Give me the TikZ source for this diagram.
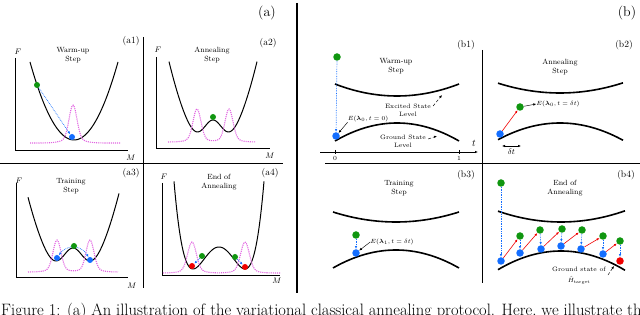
\documentclass[tikz,border=0pt]{standalone}
\usepackage{amsmath}
\usepackage{amssymb}
\usepackage{tikz}
\usetikzlibrary{arrows.meta,positioning}

\definecolor{ballgreen}{RGB}{16,150,16}
\definecolor{ballblue}{RGB}{20,110,255}
\definecolor{ballred}{RGB}{240,0,0}
\definecolor{densmag}{RGB}{225,100,225}

\begin{document}
\begin{tikzpicture}[x=1pt,y=1pt,>={Latex[length=3pt,width=2.4pt]},
  pot/.style={line width=1pt},
  lvl/.style={line width=1.6pt},
  dens/.style={densmag,densely dotted,line width=1.1pt},
  axis/.style={line width=0.7pt},
  split/.style={line width=0.8pt},
  ball/.style={circle,inner sep=0pt,minimum size=7.5pt},
  sball/.style={ball,minimum size=6pt},
  fall/.style={->,ballblue,densely dotted,line width=0.7pt},
  hop/.style={->,ballred,line width=0.6pt},
  ptr/.style={->,line width=0.45pt},
  dptr/.style={->,densely dashed,line width=0.45pt},
  title/.style={font=\fontsize{7.5}{9.5}\selectfont,align=center,inner sep=0pt},
  note/.style={font=\fontsize{6.3}{7.8}\selectfont,align=center,inner sep=0pt},
  tag/.style={font=\fontsize{9.5}{11}\selectfont,inner sep=0pt},
  bigtag/.style={font=\fontsize{14}{16}\selectfont,inner sep=0pt},
  lab/.style={font=\fontsize{8}{9}\selectfont,inner sep=0pt}]
  \useasboundingbox (0,0) rectangle (640,315);

  % frames
  \draw[line width=1.1pt] (297,312) -- (297,22);
  \draw[split] (143,278) -- (143,27);
  \draw[split] (0,152) -- (283,152);
  \draw[split] (482,265) -- (482,32);
  \draw[split] (325,152) -- (640,152);
  \node[bigtag] (ta) at (267,302) {(a)};
  \node[bigtag] (tb) at (627,302) {(b)};

  % (a1)
  \node[tag] (ta1) at (131,274) {(a1)};
  \draw[axis] (15,257) |- (128,165);
  \node[lab] (fa1) at (18,263) {$F$};
  \node[lab] (ma1) at (131,157) {$M$};
  \node[title] (wa1) at (73,260) {Warm-up\\Step};
  \draw[pot] plot[domain=30:118,samples=60] (\x,{175+0.0403*(\x-74)^2});
  \draw[dens] plot[domain=30:120,samples=90] (\x,{172+34*exp(-((\x-73)/5.5)^2)+4*exp(-((\x-73)/14)^2)});
  \node[sball,fill=ballgreen] (a1g) at (37,230) {};
  \node[sball,fill=ballblue] (a1b) at (72,178) {};
  \draw[fall] (a1g) -- (a1b);

  % (a2)
  \node[tag] (ta2) at (268,272) {(a2)};
  \draw[axis] (156,258) |- (270,167);
  \node[lab] (fa2) at (158,265) {$F$};
  \node[lab] (ma2) at (270,159) {$M$};
  \node[title] (wa2) at (212,260) {Annealing\\Step};
  \draw[pot] plot[domain=169:257,samples=80] (\x,{163.4+0.0465*(\x-213)^2+31.6*exp(-(\x-213)^2/182.25)});
  \draw[dens] plot[domain=168:256,samples=100] (\x,{173+30*exp(-((\x-197)/5.5)^2)+30*exp(-((\x-229)/5.5)^2)+3*exp(-((\x-197)/13)^2)+3*exp(-((\x-229)/13)^2)});
  \node[sball,fill=ballgreen] (a2g) at (213,198) {};

  % (a3)
  \node[tag] (ta3) at (131,142) {(a3)};
  \draw[axis] (16,132) |- (128,38);
  \node[lab] (fa3) at (19,134) {$F$};
  \node[lab] (ma3) at (132,29) {$M$};
  \node[title] (wa3) at (71,129) {Training\\Step};
  \draw[pot] plot[domain=28:119,samples=80] (\x,{32.7+0.042*(\x-73)^2+34.3*exp(-(\x-73)^2/219)});
  \draw[dens] plot[domain=28:118,samples=100] (\x,{43+29*exp(-((\x-57)/5.5)^2)+29*exp(-((\x-90)/5.5)^2)+3*exp(-((\x-57)/13)^2)+3*exp(-((\x-90)/13)^2)});
  \node[sball,fill=ballgreen] (a3g) at (74,69) {};
  \node[sball,fill=ballblue] (a3bl) at (57,57) {};
  \node[sball,fill=ballblue] (a3br) at (90,55) {};
  \draw[fall] (a3g) to[bend right=20] (a3bl);
  \draw[fall] (a3g) to[bend left=20] (a3br);

  % (a4)
  \node[tag] (ta4) at (270,142) {(a4)};
  \draw[axis] (162,132) |- (280,40);
  \node[lab] (fa4) at (164,138) {$F$};
  \node[lab] (ma4) at (277,34) {$M$};
  \node[title] (wa4) at (219,133) {End of\\Annealing};
  \draw[pot] plot[domain=174:264,samples=100] (\x,{46+22*((\x-219)^2/676-1)^2});
  \draw[dens] plot[domain=163:280,samples=110] (\x,{42+28*exp(-((\x-192)/6)^2)+28*exp(-((\x-245)/6)^2)+3*exp(-((\x-192)/14)^2)+3*exp(-((\x-245)/14)^2)});
  \node[sball,fill=ballgreen] (a4gl) at (202,59) {};
  \node[sball,fill=ballgreen] (a4gr) at (235,58) {};
  \node[sball,fill=ballred] (a4rl) at (192,49) {};
  \node[sball,fill=ballred] (a4rr) at (245,48) {};
  \draw[fall] (a4gl) -- (a4rl);
  \draw[fall] (a4gr) -- (a4rr);

  % (b1)
  \node[tag] (tb1) at (466,270) {(b1)};
  \node[title] (wb1) at (396,249) {Warm-up\\Step};
  \draw[->,line width=0.7pt] (320,163) -- (478,163);
  \draw[axis] (335,165) -- (335,161) node[below=2pt,note] (t0) {0};
  \draw[axis] (459,165) -- (459,161) node[below=2pt,note] (t1) {1};
  \node[font=\fontsize{10}{12}\selectfont,inner sep=0pt] (tt) at (474,172) {$t$};
  \draw[lvl] plot[domain=335:459,samples=40] (\x,{219+12*((\x-397)/62)^2});
  \draw[lvl] plot[domain=335:459,samples=40] (\x,{192-18*((\x-397)/62)^2});
  \node[ball,fill=ballgreen] (b1g) at (337,258) {};
  \node[ball,fill=ballblue] (b1b) at (336,179) {};
  \draw[fall] (b1g) -- (b1b);
  \node[note] (b1elab) at (368,196) {$E(\boldsymbol{\lambda}_0, t=0)$};
  \draw[ptr] (b1elab.south west) -- (b1b);
  \node[note] (b1exlab) at (408,205) {Excited State\\Level};
  \coordinate (b1ex) at (442,220);
  \draw[dptr] ([shift={(2,4)}]b1exlab.east) -- (b1ex);
  \node[note] (b1gslab) at (403,174) {Ground State\\Level};
  \coordinate (b1gs) at (437,179);
  \draw[dptr] ([shift={(2,2)}]b1gslab.east) -- (b1gs);

  % (b2)
  \node[tag] (tb2) at (624,270) {(b2)};
  \node[title] (wb2) at (560,248) {Annealing\\Step};
  \draw[lvl] plot[domain=498:623,samples=40] (\x,{222+10*((\x-560)/62.5)^2});
  \draw[lvl] plot[domain=498:623,samples=40] (\x,{192-17*((\x-560)/62.5)^2});
  \node[ball,fill=ballblue] (b2b) at (500,181) {};
  \node[ball,fill=ballgreen] (b2g) at (520,208) {};
  \draw[hop] (b2b) -- (b2g);
  \node[note] (b2elab) at (558,211) {$E(\boldsymbol{\lambda}_0, t=\delta t)$};
  \draw[ptr] (b2g) -- (b2elab.west);
  \coordinate (dtl) at (502,169);
  \coordinate (dtr) at (521,169);
  \draw[<->,line width=0.45pt] (dtl) -- node[below=3pt,font=\fontsize{8}{9}\selectfont,inner sep=0pt] (dt) {$\delta t$} (dtr);

  % (b3)
  \node[tag] (tb3) at (466,140) {(b3)};
  \node[title] (wb3) at (399,127) {Training\\Step};
  \draw[lvl] plot[domain=333:459,samples=40] (\x,{93+10*((\x-396)/63)^2});
  \draw[lvl] plot[domain=333:459,samples=40] (\x,{65-18*((\x-396)/63)^2});
  \node[ball,fill=ballgreen] (b3g) at (356,80) {};
  \node[ball,fill=ballblue] (b3b) at (356,62) {};
  \draw[fall] (b3g) -- (b3b);
  \node[note] (b3elab) at (392,73) {$E(\boldsymbol{\lambda}_1, t=\delta t)$};
  \draw[ptr] (b3elab.west) -- (b3b);

  % (b4)
  \node[tag] (tb4) at (626,140) {(b4)};
  \node[title] (wb4) at (565,127) {End of\\Annealing};
  \draw[lvl] plot[domain=498:625,samples=40] (\x,{93+11*((\x-561)/63.5)^2});
  \draw[lvl] plot[domain=498:625,samples=40] (\x,{64-19*((\x-561)/63.5)^2});
  \node[ball,fill=ballgreen] (b4gtop) at (501,132) {};
  \node[ball,fill=ballblue] (b4b0) at (501,54) {};
  \node[ball,fill=ballgreen] (b4g1) at (520,79) {};
  \node[ball,fill=ballblue] (b4b1) at (520,62) {};
  \node[ball,fill=ballgreen] (b4g2) at (540,85) {};
  \node[ball,fill=ballblue] (b4b2) at (541,66) {};
  \node[ball,fill=ballgreen] (b4g3) at (562,86) {};
  \node[ball,fill=ballblue] (b4b3) at (561,69) {};
  \node[ball,fill=ballgreen] (b4g4) at (582,85) {};
  \node[ball,fill=ballblue] (b4b4) at (581,66) {};
  \node[ball,fill=ballgreen] (b4g5) at (603,79) {};
  \node[ball,fill=ballblue] (b4b5) at (603,61) {};
  \node[ball,fill=ballgreen] (b4g6) at (620,74) {};
  \node[ball,fill=ballred] (b4r) at (620,54) {};
  \draw[fall] (b4gtop) -- (b4b0);
  \draw[hop] (b4b0) -- (b4g1);
  \draw[fall] (b4g1) -- (b4b1);
  \draw[hop] (b4b1) -- (b4g2);
  \draw[fall] (b4g2) -- (b4b2);
  \draw[hop] (b4b2) -- (b4g3);
  \draw[fall] (b4g3) -- (b4b3);
  \draw[hop] (b4b3) -- (b4g4);
  \draw[fall] (b4g4) -- (b4b4);
  \draw[hop] (b4b4) -- (b4g5);
  \draw[fall] (b4g5) -- (b4b5);
  \draw[hop] (b4b5) -- (b4g6);
  \draw[fall] (b4g6) -- (b4r);
  \node[note] (b4gslab) at (579,46) {Ground state of};
  \node[note,below=5pt of b4gslab] (b4hlab) {$\hat{H}_{\text{target}}$};
  \coordinate (b4gs) at (614,49);
  \draw[dptr] ([shift={(2,-6)}]b4gslab.east) -- (b4gs);

  % caption, cut by the page edge
  \node[anchor=base west,inner sep=0pt,font=\fontsize{16.5}{18}\selectfont] (cap) at (1,-1)
    {Figure 1: (a) An illustration of the variational classical annealing protocol. Here, we illustrate the};
\end{tikzpicture}
\end{document}
